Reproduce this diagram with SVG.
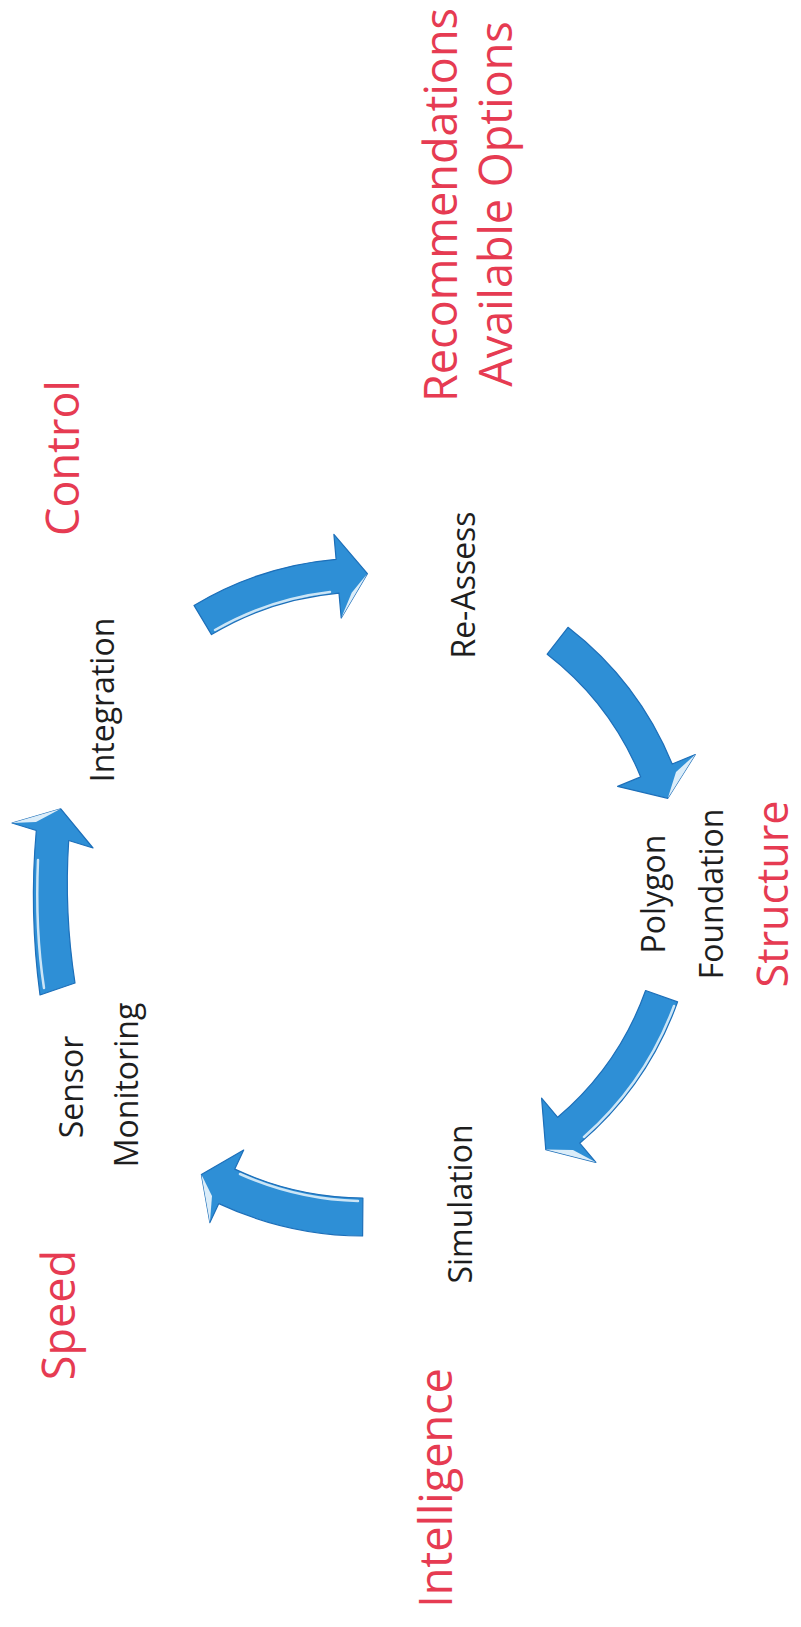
<svg xmlns="http://www.w3.org/2000/svg" width="801" height="1627" viewBox="0 0 801 1627">
<style>
.red{font-family:"Open Sans","Noto Sans",sans-serif;font-size:45px;fill:#e63b52;text-anchor:middle}
.blk{font-family:"Open Sans","Noto Sans",sans-serif;font-size:32px;fill:#1e1e1e;text-anchor:middle}
.arrow{fill:#2e8fd6;stroke:#1d6fb9;stroke-width:1.2;stroke-linejoin:round}
.hl{fill:none;stroke:#e8f4fc;stroke-width:2.5;stroke-opacity:0.85;stroke-linecap:round}
.bev{fill:#eef7fd;opacity:0.9}
</style>
<rect width="801" height="1627" fill="#ffffff"/>
<g id="connectors">
  <g id="arrow-integration-reassess">
    <path class="arrow" d="M211.5 634.6 L194 605.4 A332 332 0 0 1 336.1 559.3 L333.9 534.4 L367.4 573.6 L341.2 618 L339 593.1 A298 298 0 0 0 211.5 634.6 Z"/>
    <path class="hl" d="M215 630 A301 301 0 0 1 330 592"/>
    <polygon class="bev" points="367.4,573.6 341.2,618 351.7,592.8"/>
  </g>
  <g id="arrow-reassess-polygon">
    <path class="arrow" d="M547.2 654.2 L568 627.3 A332 332 0 0 1 672.2 764 L695.3 754.5 L667.8 798.3 L617.6 786.4 L640.7 776.9 A298 298 0 0 0 547.2 654.2 Z"/>
    <polygon class="bev" points="667.8,798.3 695.3,754.5 676,772"/>
  </g>
  <g id="arrow-polygon-simulation">
    <path class="arrow" d="M645.6 990.5 L677.6 1001.9 A332 332 0 0 1 579.7 1143.2 L595.9 1162.3 L545.8 1149.6 L541.6 1098.2 L557.7 1117.3 A298 298 0 0 0 645.6 990.5 Z"/>
    <path class="hl" d="M674 1006 A328 328 0 0 1 584 1137"/>
    <polygon class="bev" points="545.8,1149.6 595.9,1162.3 573,1150"/>
  </g>
  <g id="arrow-simulation-sensor">
    <path class="arrow" d="M362.6 1236 L362.9 1198 A308 308 0 0 1 234.8 1169.1 L243.7 1150.1 L201.4 1174.6 L209.9 1222.6 L218.8 1203.6 A346 346 0 0 0 362.6 1236 Z"/>
    <path class="hl" d="M358 1201 A311 311 0 0 1 240 1174"/>
    <polygon class="bev" points="201.4,1174.6 209.9,1222.6 212,1196"/>
  </g>
  <g id="arrow-sensor-integration">
    <path class="arrow" d="M40 995 Q29 912 36.3 830.5 L12 823 L60.8 808.8 L93 848 L68.7 840.5 Q64 912 75 983 Z"/>
    <path class="hl" d="M44 988 Q35 930 38 860"/>
    <polygon class="bev" points="60.8,808.8 12,823 36,822"/>
  </g>
</g>
<g id="node-recommendations">
  <text class="red" transform="translate(457,205) rotate(-90)">Recommendations</text>
  <text class="red" transform="translate(512,204) rotate(-90)">Available Options</text>
</g>
<g id="node-control"><text class="red" transform="translate(79,458) rotate(-90)">Control</text></g>
<g id="node-integration"><text class="blk" transform="translate(114,700) rotate(-90)">Integration</text></g>
<g id="node-reassess"><text class="blk" transform="translate(475,585) rotate(-90)">Re-Assess</text></g>
<g id="node-polygon">
  <text class="blk" transform="translate(665,894) rotate(-90)">Polygon</text>
  <text class="blk" transform="translate(723,894) rotate(-90)">Foundation</text>
</g>
<g id="node-structure"><text class="red" transform="translate(788,894) rotate(-90)" style="font-size:43px">Structure</text></g>
<g id="node-sensor">
  <text class="blk" transform="translate(83,1087) rotate(-90)">Sensor</text>
  <text class="blk" transform="translate(138,1085) rotate(-90)">Monitoring</text>
</g>
<g id="node-simulation"><text class="blk" transform="translate(472,1204) rotate(-90)">Simulation</text></g>
<g id="node-speed"><text class="red" transform="translate(75,1315) rotate(-90)">Speed</text></g>
<g id="node-intelligence"><text class="red" transform="translate(452,1488) rotate(-90)">Intelligence</text></g>
</svg>
